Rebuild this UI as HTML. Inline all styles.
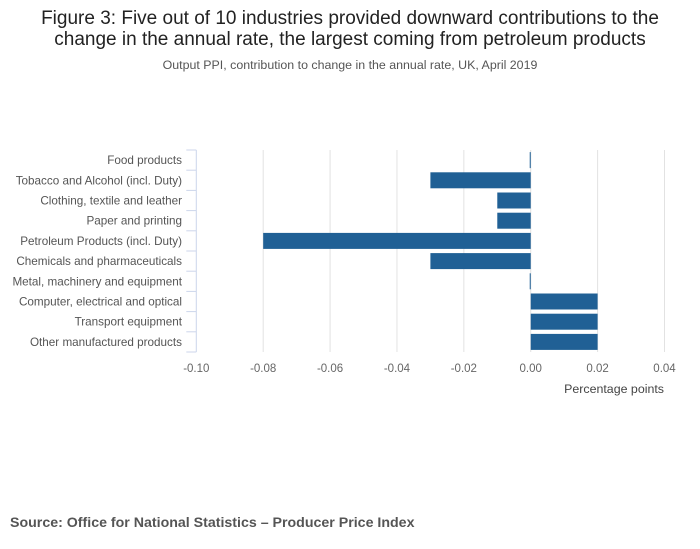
<!DOCTYPE html>
<html><head><meta charset="utf-8"><style>
body{margin:0;background:#fff;font-family:"Liberation Sans",sans-serif;}
svg{display:block}
</style></head><body>
<svg width="700" height="549" id="c">
<text x="350" y="24" text-anchor="middle" font-size="19" fill="#222">Figure 3: Five out of 10 industries provided downward contributions to the</text>
<text x="350" y="45" text-anchor="middle" font-size="19" fill="#222">change in the annual rate, the largest coming from petroleum products</text>
<text x="350" y="69" text-anchor="middle" font-size="12.4" fill="#555">Output PPI, contribution to change in the annual rate, UK, April 2019</text>
<text x="664" y="393" text-anchor="end" font-size="12.4" fill="#444">Percentage points</text>
<text x="10" y="527" font-size="14.2" font-weight="bold" fill="#555">Source: Office for National Statistics – Producer Price Index</text>
<g id="plot"></g>
</svg>
<script>
const categories=["Food products","Tobacco and Alcohol (incl. Duty)","Clothing, textile and leather","Paper and printing","Petroleum Products (incl. Duty)","Chemicals and pharmaceuticals","Metal, machinery and equipment","Computer, electrical and optical","Transport equipment","Other manufactured products"];
const values=[-0.0003,-0.03,-0.01,-0.01,-0.08,-0.03,-0.0003,0.02,0.02,0.02];
const ticks=[-0.10,-0.08,-0.06,-0.04,-0.02,0.00,0.02,0.04];
const tickLabels=["-0.10","-0.08","-0.06","-0.04","-0.02","0.00","0.02","0.04"];
const NS="http://www.w3.org/2000/svg";
const g=document.getElementById('plot');
const x0=196.3,x1=664.5,xmin=-0.10,xmax=0.04,yTop=150,yBot=352;
const xs=v=>x0+(v-xmin)/(xmax-xmin)*(x1-x0);
const rh=(yBot-yTop)/categories.length;
function el(t,a){const e=document.createElementNS(NS,t);for(const k in a)e.setAttribute(k,a[k]);g.appendChild(e);return e;}
ticks.forEach((t,i)=>{
  if(i>0){const l=el('line',{x1:xs(t),x2:xs(t),y1:yTop,y2:yBot,stroke:'#e2e2e2','stroke-width':1});
  
  }
  const tx=el('text',{x:xs(t),y:372,'text-anchor':'middle','font-size':11.5,fill:'#666'});
  tx.textContent=tickLabels[i];
  
  
});
const ax=el('line',{x1:x0,x2:x0,y1:yTop,y2:yBot,stroke:'#ccd6eb','stroke-width':1});


for(let i=0;i<=categories.length;i++){
  const t=el('line',{x1:x0-10,x2:x0,y1:yTop+i*rh,y2:yTop+i*rh,stroke:'#ccd6eb','stroke-width':1});
  
  
}
categories.forEach((c,i)=>{
  const cy=yTop+(i+0.5)*rh;
  const tx=el('text',{x:182,y:cy+4,'text-anchor':'end','font-size':11.7,fill:'#555'});
  tx.textContent=c;
  
  
  const v=values[i],a=xs(Math.min(0,v)),b=xs(Math.max(0,v));
  const r=el('rect',{x:a,y:cy-8,width:Math.max(1,b-a),height:16,fill:'#206095'});
  
  
});
</script>
</body></html>
